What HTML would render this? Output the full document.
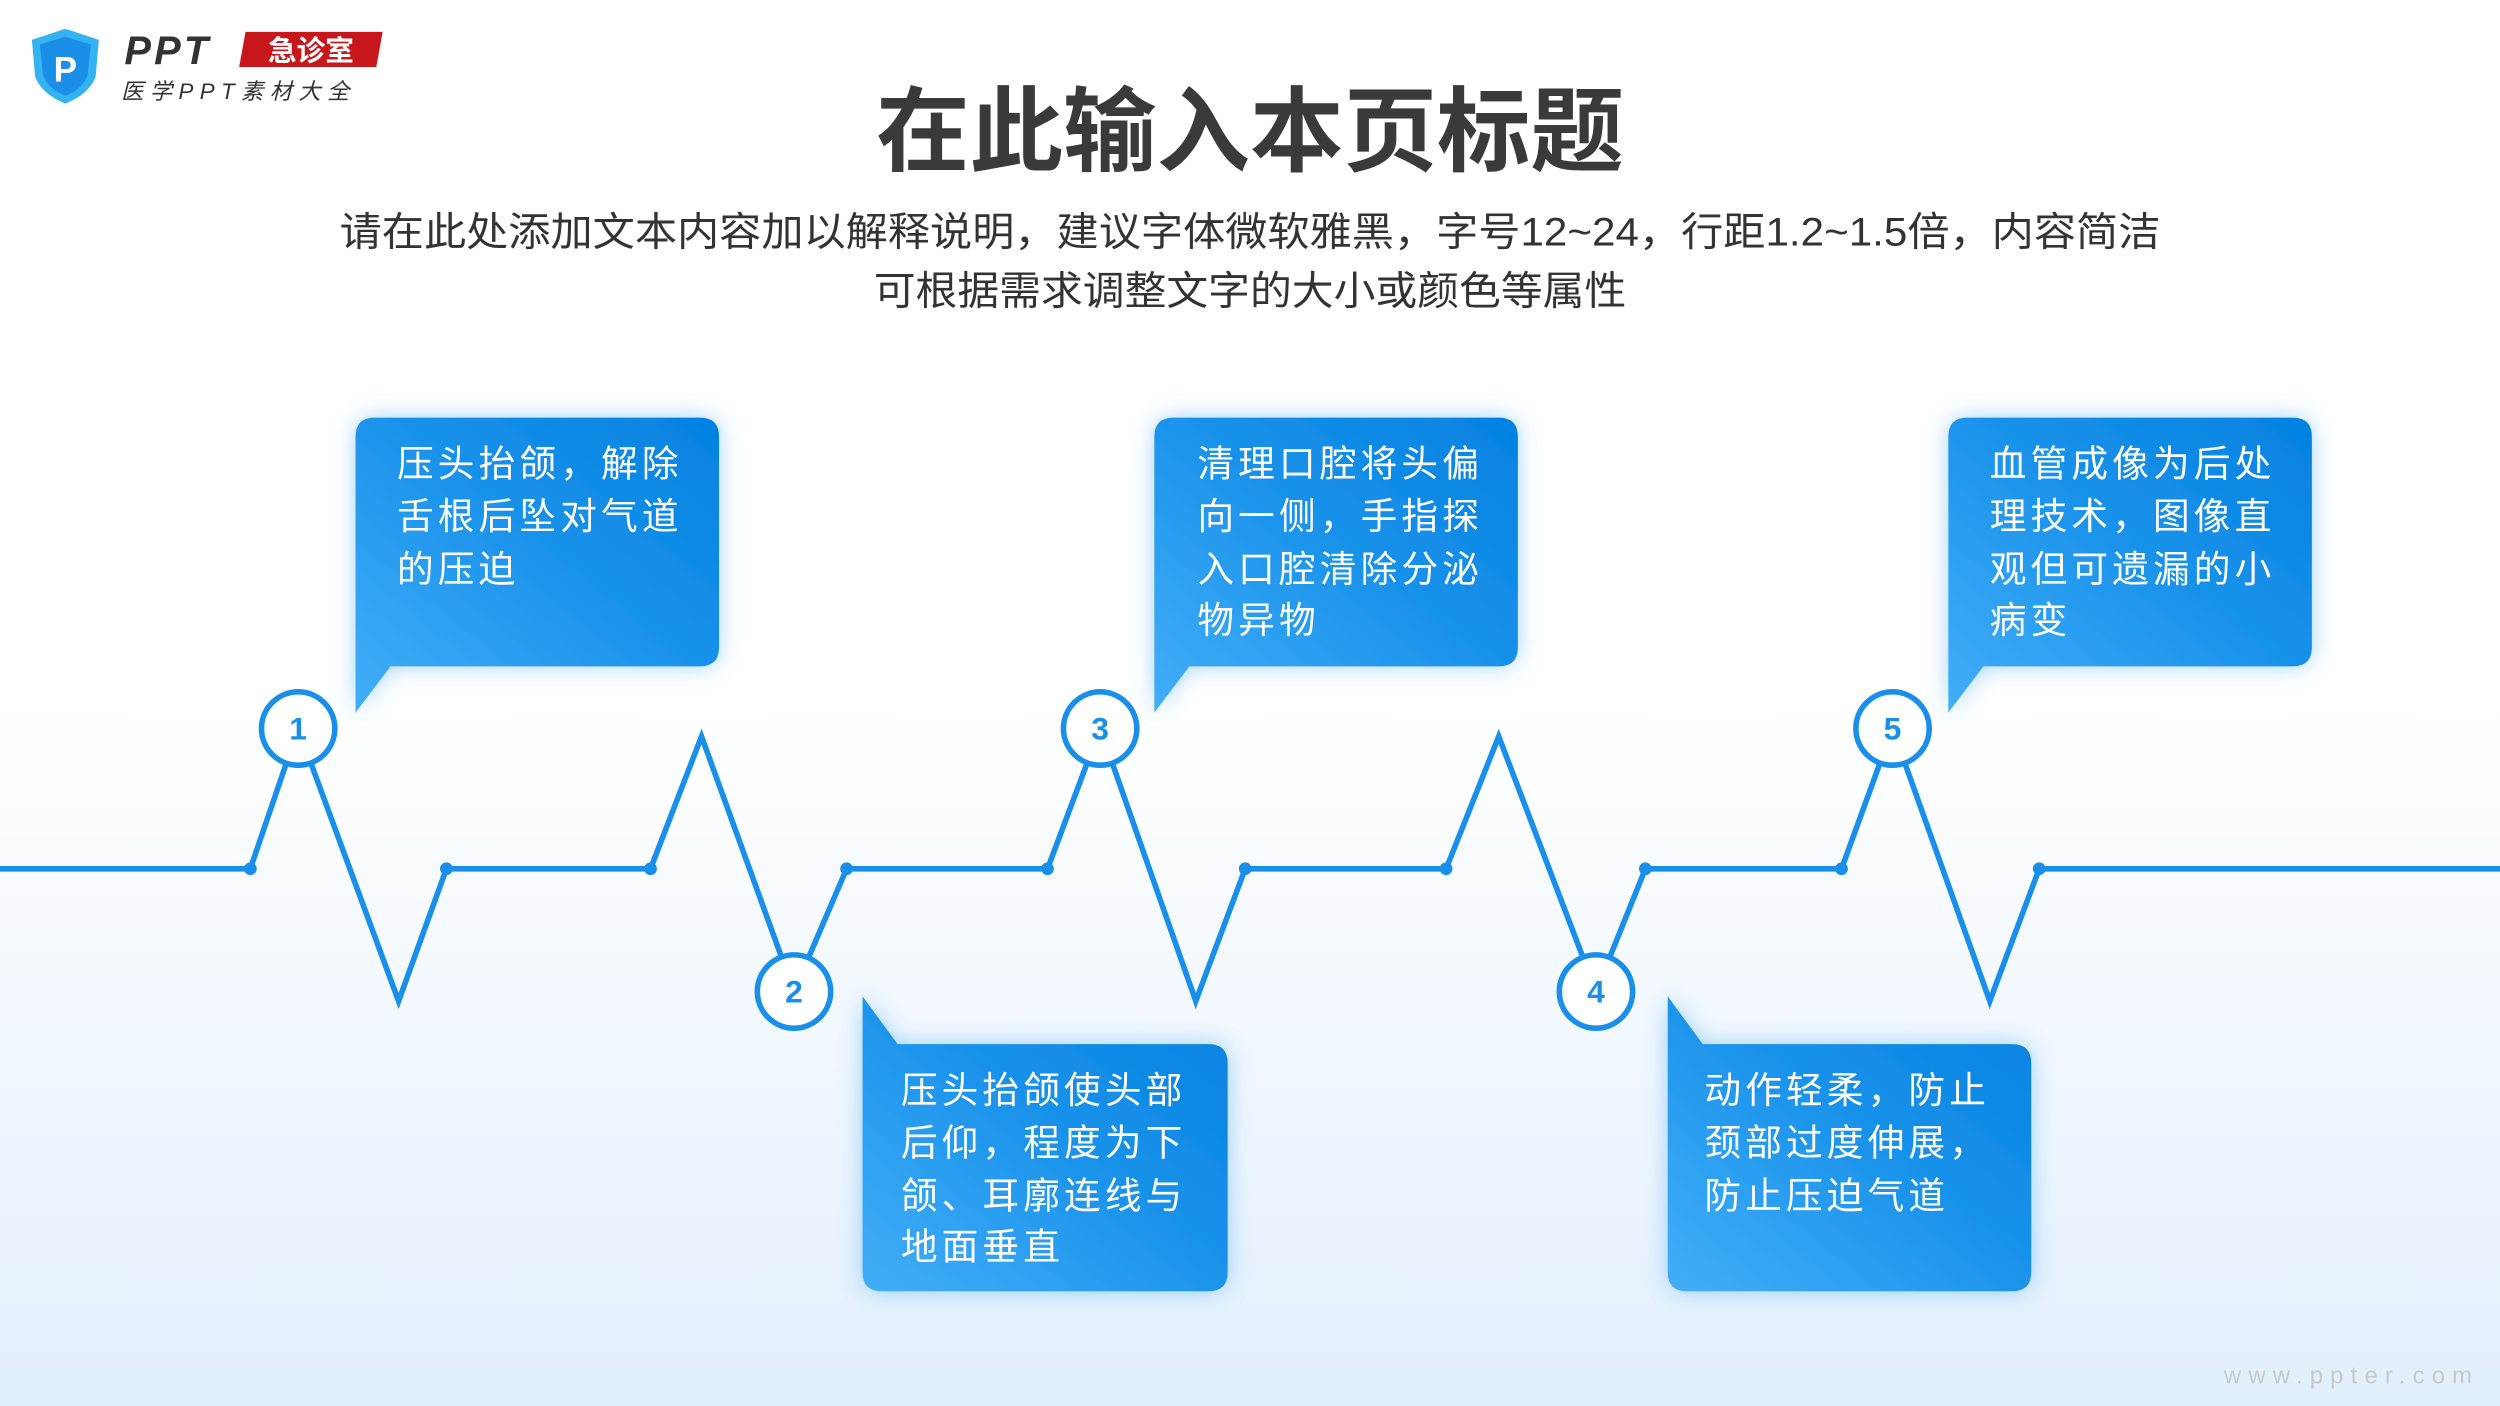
<!DOCTYPE html>
<html><head><meta charset="utf-8">
<style>
html,body{margin:0;padding:0;width:2500px;height:1406px;overflow:hidden;background:#fff;}
svg{display:block;}
text{font-family:"Liberation Sans","Noto Sans CJK SC",sans-serif;}
</style></head>
<body>
<svg width="2500" height="1406" viewBox="0 0 1568 882" preserveAspectRatio="none" xmlns="http://www.w3.org/2000/svg">
<defs>
<linearGradient id="bg" x1="0" y1="0" x2="0" y2="1">
<stop offset="0" stop-color="#ffffff"/><stop offset="0.5" stop-color="#ffffff"/><stop offset="1" stop-color="#e1effc"/>
</linearGradient>
<linearGradient id="box" x1="0" y1="1" x2="1" y2="0">
<stop offset="0" stop-color="#42aef8"/><stop offset="0.55" stop-color="#1992ea"/><stop offset="1" stop-color="#0381e1"/>
</linearGradient>
<filter id="glow" x="-20%" y="-20%" width="140%" height="140%">
<feGaussianBlur in="SourceAlpha" stdDeviation="7" result="blur"/>
<feFlood flood-color="#4aaaf5" flood-opacity="0.5" result="col"/>
<feComposite in="col" in2="blur" operator="in" result="sh"/>
<feMerge><feMergeNode in="sh"/><feMergeNode in="SourceGraphic"/></feMerge>
</filter>
</defs>
<rect width="1568" height="882" fill="url(#bg)"/>

<!-- logo -->
<path d="M41 18 L62 25 L60 48 Q56 59 41 65 Q26 59 22 48 L20 25 Z" fill="#33b3f0"/>
<path d="M41 23 L57 28 L55 47 Q52 56 41 60 Q30 56 27 47 L25 28 Z" fill="#1b8fe8"/>
<text x="41" y="51" font-size="22" font-weight="bold" fill="#fff" text-anchor="middle" font-family="Liberation Serif,serif">P</text>
<text x="78" y="40" font-size="25" font-weight="bold" font-style="italic" fill="#333" letter-spacing="2">PPT</text>
<path d="M154 20 L240 20 L236 42 L150 42 Z" fill="#c8161d"/>
<text x="195" y="38" font-size="18" font-weight="bold" fill="#fff" text-anchor="middle">急诊室</text>
<text x="76" y="62" font-size="14" fill="#333" letter-spacing="4" font-style="italic">医学PPT素材大全</text>

<!-- title -->
<text x="784" y="103" font-size="58" font-weight="bold" fill="#3a3a3a" text-anchor="middle" textLength="469" lengthAdjust="spacingAndGlyphs">在此输入本页标题</text>
<text x="784" y="154" font-size="25" fill="#333" text-anchor="middle" textLength="1142" lengthAdjust="spacingAndGlyphs">请在此处添加文本内容加以解释说明，建议字体微软雅黑，字号12~24，行距1.2~1.5倍，内容简洁</text>
<text x="784" y="191" font-size="25" fill="#333" text-anchor="middle" textLength="472" lengthAdjust="spacingAndGlyphs">可根据需求调整文字的大小或颜色等属性</text>

<!-- callouts -->
<g filter="url(#glow)">
<path d="M235 262 H439 Q451 262 451 274 V406 Q451 418 439 418 H245 L223 447 V274 Q223 262 235 262 Z" fill="url(#box)"/>
<path d="M736 262 H940 Q952 262 952 274 V406 Q952 418 940 418 H746 L724 447 V274 Q724 262 736 262 Z" fill="url(#box)"/>
<path d="M1234 262 H1438 Q1450 262 1450 274 V406 Q1450 418 1438 418 H1244 L1222 447 V274 Q1222 262 1234 262 Z" fill="url(#box)"/>
<path d="M541 625 L563 655 H758 Q770 655 770 667 V798 Q770 810 758 810 H553 Q541 810 541 798 Z" fill="url(#box)"/>
<path d="M1046 625 L1068 655 H1262 Q1274 655 1274 667 V798 Q1274 810 1262 810 H1058 Q1046 810 1046 798 Z" fill="url(#box)"/>
</g>
<g font-size="23" fill="#fff" letter-spacing="2.6">
<text x="249" y="299">压头抬颌，解除</text>
<text x="249" y="332">舌根后坠对气道</text>
<text x="249" y="365">的压迫</text>
<text x="751" y="299">清理口腔将头偏</text>
<text x="751" y="332">向一侧，手指探</text>
<text x="751" y="365">入口腔清除分泌</text>
<text x="751" y="397">物异物</text>
<text x="1248" y="299">血管成像为后处</text>
<text x="1248" y="332">理技术，图像直</text>
<text x="1248" y="365">观但可遗漏的小</text>
<text x="1248" y="397">病变</text>
<text x="565" y="692">压头抬颌使头部</text>
<text x="565" y="725">后仰，程度为下</text>
<text x="565" y="758">颌、耳廓连线与</text>
<text x="565" y="790">地面垂直</text>
<text x="1069" y="692">动作轻柔，防止</text>
<text x="1069" y="725">颈部过度伸展，</text>
<text x="1069" y="758">防止压迫气道</text>
</g>

<!-- ECG line -->
<polyline fill="none" stroke="#1a8fea" stroke-width="3.5" stroke-linejoin="miter"
points="0,545 157,545 187,457 250,628 280,545 408,545 440,462 498,622 531,545 657,545 690,457 750,628 781,545 907,545 940,462 1001,622 1032,545 1155,545 1187,457 1248,628 1279,545 1568,545"/>
<g fill="#1a8fea">
<circle cx="157" cy="545" r="4"/><circle cx="280" cy="545" r="4"/><circle cx="408" cy="545" r="4"/>
<circle cx="531" cy="545" r="4"/><circle cx="657" cy="545" r="4"/><circle cx="781" cy="545" r="4"/>
<circle cx="907" cy="545" r="4"/><circle cx="1032" cy="545" r="4"/><circle cx="1155" cy="545" r="4"/><circle cx="1279" cy="545" r="4"/>
</g>
<g fill="#fff" stroke="#1a8fea" stroke-width="3.5">
<circle cx="187" cy="457" r="23"/><circle cx="498" cy="622" r="23"/><circle cx="690" cy="457" r="23"/>
<circle cx="1001" cy="622" r="23"/><circle cx="1187" cy="457" r="23"/>
</g>
<g font-size="20" font-weight="bold" fill="#1a8fea" text-anchor="middle">
<text x="187" y="464">1</text><text x="498" y="629">2</text><text x="690" y="464">3</text>
<text x="1001" y="629">4</text><text x="1187" y="464">5</text>
</g>

<text x="1555" y="868" font-size="15" fill="#c4c9ce" text-anchor="end" letter-spacing="4.5">www.ppter.com</text>
</svg>
</body></html>
